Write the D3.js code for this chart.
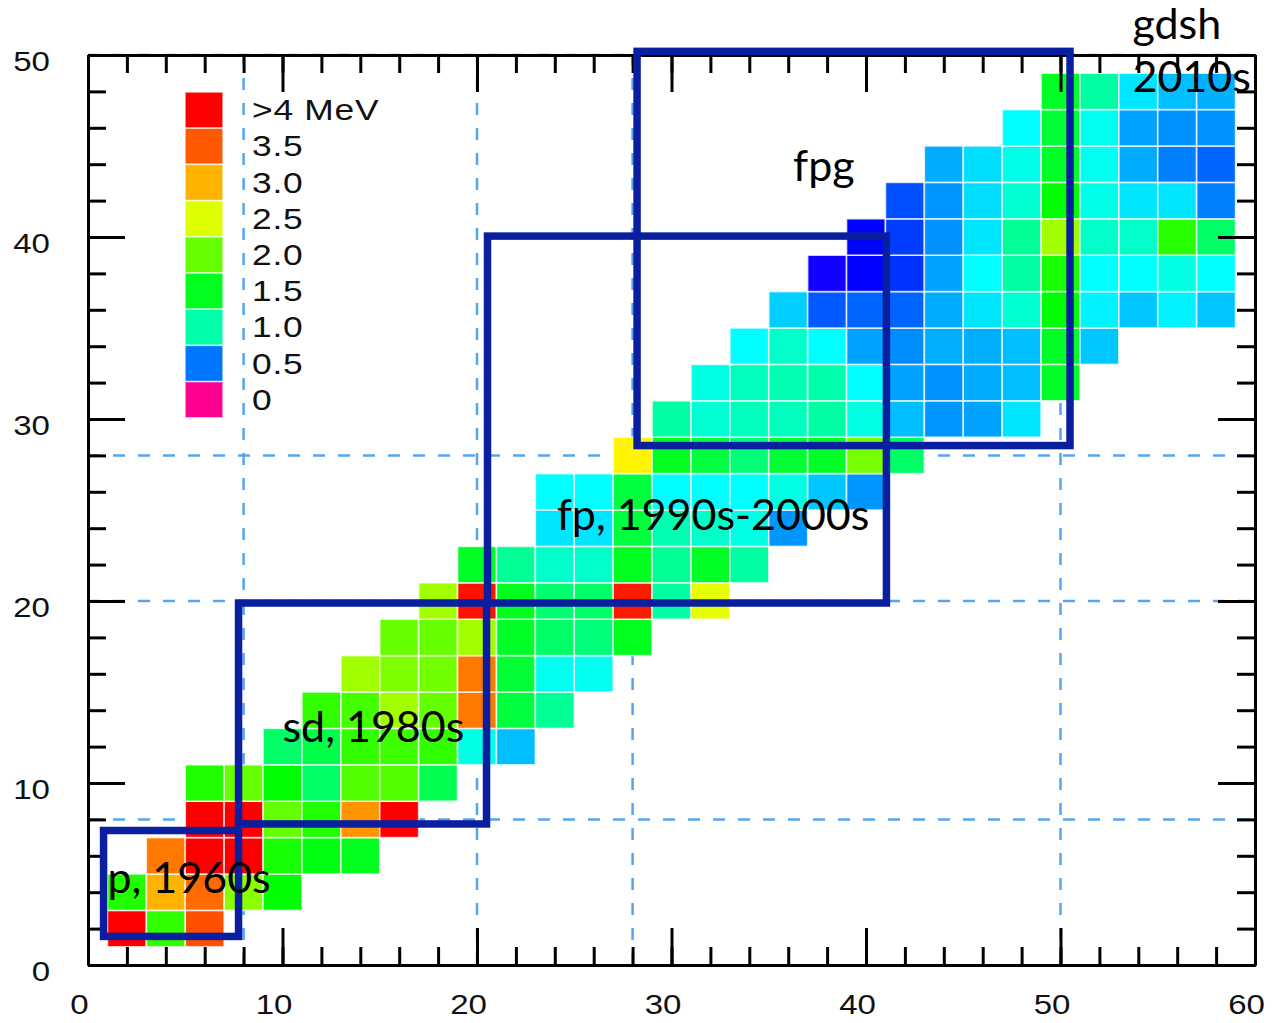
<!DOCTYPE html>
<html>
<head>
<meta charset="utf-8">
<script src="https://cdn.jsdelivr.net/npm/d3@7"></script>
<style>
  body { margin: 0; background: #fff; }
</style>
</head>
<body>
<div class="canvas"></div>
<script>
// E(2+) in MeV for even-even nuclei, one array per proton row Z, starting at neutron number nFirst
const zRows  = [2, 4, 6, 8, 10, 12, 14, 16, 18, 20, 22, 24, 26, 28, 30, 32, 34, 36, 38, 40, 42, 44, 46, 48];
const nFirst = [2, 2, 4, 6, 6, 10, 12, 14, 16, 18, 20, 24, 24, 28, 30, 32, 34, 36, 38, 40, 42, 44, 48, 50];

const z02 = [4.2, 1.8, 3.55];
const z04 = [1.73, 3.0, 3.4, 2.15, 1.6];
const z06 = [3.33, 4.2, 4.2, 1.7, 1.55, 1.5];
const z08 = [4.2, 4.2, 2.0, 1.73, 3.17, 4.2];
const z10 = [1.73, 2.0, 1.6, 1.24, 1.92, 1.92, 1.32];
const z12 = [1.24, 1.35, 1.8, 1.85, 1.8, 0.87, 0.66];
const z14 = [1.8, 1.87, 2.25, 2.0, 3.33, 1.39, 1.08];
const z16 = [2.25, 2.1, 2.05, 3.33, 1.42, 0.84, 0.84];
const z18 = [2.0, 2.0, 2.25, 1.47, 1.24, 1.18, 1.5];
const z20 = [2.25, 3.9, 1.5, 1.21, 1.24, 3.85, 1.03, 2.54];
const z22 = [1.47, 1.08, 0.93, 0.93, 1.5, 1.08, 1.47, 1.03];
const z24 = [0.75, 0.75, 1.39, 0.98, 0.93, 0.87, 0.57];
const z26 = [0.81, 0.81, 1.39, 0.81, 0.81, 0.81, 0.87, 0.68, 0.57];
const z28 = [2.7, 1.5, 1.39, 1.18, 1.42, 1.47, 2.07, 1.24];
const z30 = [1.03, 0.91, 0.96, 0.96, 1.03, 0.87, 0.66, 0.57, 0.60, 0.75];
const z32 = [0.87, 0.96, 0.98, 1.0, 0.81, 0.60, 0.56, 0.62, 0.66, 1.47];
const z34 = [0.81, 0.93, 0.81, 0.60, 0.55, 0.63, 0.63, 0.66, 1.47, 0.68];
const z36 = [0.70, 0.47, 0.48, 0.48, 0.62, 0.75, 0.91, 1.6, 0.78, 0.68, 0.78, 0.68];
const z38 = [0.36, 0.38, 0.43, 0.60, 0.81, 1.03, 1.7, 0.81, 0.81, 0.87, 0.81];
const z40 = [0.38, 0.44, 0.56, 0.75, 1.08, 2.25, 0.93, 0.93, 1.76, 1.24];
const z42 = [0.46, 0.57, 0.73, 0.91, 1.61, 0.86, 0.75, 0.75, 0.52];
const z44 = [0.62, 0.73, 0.86, 1.47, 0.84, 0.62, 0.52, 0.48];
const z46 = [0.81, 1.42, 0.84, 0.60, 0.56, 0.56];
const z48 = [1.47, 1.03, 0.75, 0.66, 0.63];
const rowValues = [z02, z04, z06, z08, z10, z12, z14, z16, z18, z20, z22, z24,
                   z26, z28, z30, z32, z34, z36, z38, z40, z42, z44, z46, z48];

// legend
const legendValues = [4, 3.5, 3, 2.5, 2, 1.5, 1, 0.5, 0];
const legendLabels = [">4 MeV", "3.5", "3.0", "2.5", "2.0", "1.5", "1.0", "0.5", "0"];

// magic numbers (dashed lines)
const magic = [8, 20, 28, 50];

// era boxes, in N / Z units
const eraNames = ["p, 1960s", "sd, 1980s", "fp, 1990s-2000s", "fpg"];
const eraN0 = [0.8, 7.74, 20.54, 28.23];
const eraN1 = [7.74, 20.49, 41.05, 50.49];
const eraZ0 = [1.57, 7.75, 19.89, 28.54];
const eraZ1 = [7.39, 19.89, 40.05, 50.2];

const xTicksMinor = d3.range(0, 61, 2);
const xTicksMajor = d3.range(0, 61, 10);
const yTicksMinor = d3.range(0, 51, 2);
const yTicksMajor = d3.range(0, 51, 10);

//svg
const svg = d3.select('.canvas')
  .append('svg')
  .attr('width', 1278)
  .attr('height', 1023);

const x = d3.scaleLinear().domain([0, 60]).range([88, 1255]);
const y = d3.scaleLinear().domain([0, 50]).range([965, 55]);

const hue = d3.scaleLinear()
  .domain([0, 0.5, 1, 1.5, 2, 2.5, 3, 3.5, 4])
  .range([326, 212, 160, 127, 96, 68, 42, 21, 0])
  .clamp(true);
const colour = v => d3.hsl(hue(v), 1, 0.5).formatHex();

const stretch = 1.18; // text in the original is wider than tall

//dashed magic lines
const dashes = svg.append('g')
  .attr('stroke', '#55a6f2')
  .attr('stroke-width', 2.5)
  .attr('stroke-dasharray', '12,13');
dashes.selectAll('line.v').data(magic).enter().append('line')
  .attr('class', 'v')
  .attr('x1', d => x(d)).attr('x2', d => x(d))
  .attr('y1', y(0)).attr('y2', y(50));
dashes.selectAll('line.h').data(magic).enter().append('line')
  .attr('class', 'h')
  .attr('y1', d => y(d)).attr('y2', d => y(d))
  .attr('x1', x(0)).attr('x2', x(60));

//cells
const cells = zRows.flatMap((z, i) =>
  rowValues[i].map((v, j) => ({ n: nFirst[i] + 2 * j, z: z, v: v })));

svg.append('g').selectAll('rect')
  .data(cells)
  .enter()
  .append('rect')
  .attr('x', d => x(d.n - 1))
  .attr('y', d => y(d.z + 1))
  .attr('width', d => x(d.n + 1) - x(d.n - 1))
  .attr('height', d => y(d.z - 1) - y(d.z + 1))
  .attr('fill', d => colour(d.v))
  .attr('stroke', '#ffffff')
  .attr('stroke-opacity', 0.75)
  .attr('stroke-width', 1.6);

//legend
const legend = svg.append('g');
const boxH = 36.2;
legend.selectAll('rect')
  .data(legendValues)
  .enter()
  .append('rect')
  .attr('x', 185)
  .attr('y', (d, i) => 92 + i * boxH)
  .attr('width', 38)
  .attr('height', boxH)
  .attr('fill', d => colour(d))
  .attr('stroke', '#ffffff')
  .attr('stroke-opacity', 0.7)
  .attr('stroke-width', 1.5);
legend.selectAll('text')
  .data(legendLabels)
  .enter()
  .append('text')
  .attr('transform', (d, i) => `translate(252, ${92 + i * boxH + boxH / 2 + 10}) scale(1.22,1)`)
  .attr('font-family', 'Liberation Sans, Arial, sans-serif')
  .attr('font-size', 29)
  .attr('letter-spacing', 0.6)
  .attr('fill', '#111')
  .text(d => d);

//axes
function styleAxis(g) {
  g.selectAll('path, line').attr('stroke', '#000').attr('stroke-width', 3);
  g.selectAll('text')
    .attr('font-family', 'Liberation Sans, Arial, sans-serif')
    .attr('font-size', 28)
    .attr('fill', '#111');
}

const bottomAxis = svg.append('g').attr('transform', `translate(0, ${y(0)})`);
bottomAxis.append('g').call(d3.axisBottom(x).tickValues(xTicksMinor).tickSize(-18).tickSizeOuter(0).tickFormat(''));
bottomAxis.append('g').call(d3.axisBottom(x).tickValues(xTicksMajor).tickSize(-37).tickSizeOuter(0).tickPadding(29));
bottomAxis.call(styleAxis);
bottomAxis.selectAll('text').attr('transform', `scale(${stretch},1)`).attr('dx', -9 / stretch);

const topAxis = svg.append('g').attr('transform', `translate(0, ${y(50)})`);
topAxis.append('g').call(d3.axisTop(x).tickValues(xTicksMinor).tickSize(-18).tickSizeOuter(0).tickFormat(''));
topAxis.append('g').call(d3.axisTop(x).tickValues(xTicksMajor).tickSize(-37).tickSizeOuter(0).tickFormat(''));
topAxis.call(styleAxis);

const leftAxis = svg.append('g').attr('transform', `translate(${x(0)}, 0)`);
leftAxis.append('g').call(d3.axisLeft(y).tickValues(yTicksMinor).tickSize(-18).tickSizeOuter(0).tickFormat(''));
leftAxis.append('g').call(d3.axisLeft(y).tickValues(yTicksMajor).tickSize(-37).tickSizeOuter(0).tickPadding(38 / stretch));
leftAxis.call(styleAxis);
leftAxis.selectAll('text').attr('transform', `scale(${stretch},1)`).attr('dy', '0.56em');

const rightAxis = svg.append('g').attr('transform', `translate(${x(60)}, 0)`);
rightAxis.append('g').call(d3.axisRight(y).tickValues(yTicksMinor).tickSize(-18).tickSizeOuter(0).tickFormat(''));
rightAxis.append('g').call(d3.axisRight(y).tickValues(yTicksMajor).tickSize(-37).tickSizeOuter(0).tickFormat(''));
rightAxis.call(styleAxis);

//era boxes
const eras = eraNames.map((name, i) => ({ name, n0: eraN0[i], n1: eraN1[i], z0: eraZ0[i], z1: eraZ1[i] }));
svg.append('g').selectAll('rect')
  .data(eras)
  .enter()
  .append('rect')
  .attr('x', d => x(d.n0))
  .attr('y', d => y(d.z1))
  .attr('width', d => x(d.n1) - x(d.n0))
  .attr('height', d => y(d.z0) - y(d.z1))
  .attr('fill', 'none')
  .attr('stroke', '#0a1fa0')
  .attr('stroke-width', 7.5);

//annotations
const noteText = ["p, 1960s", "sd, 1980s", "fp, 1990s-2000s", "fpg", "gdsh", "2010s"];
const noteN = [1.0, 10.0, 24.1, 36.25, 53.7, 53.7];
const noteZ = [3.96, 12.25, 23.9, 43.1, 50.9, 47.97];
svg.append('g').selectAll('text')
  .data(noteText)
  .enter()
  .append('text')
  .attr('x', (d, i) => x(noteN[i]))
  .attr('y', (d, i) => y(noteZ[i]))
  .attr('font-family', 'Lato, Carlito, sans-serif')
  .attr('font-size', 43)
  .attr('fill', '#000')
  .text(d => d);
</script>
</body>
</html>
